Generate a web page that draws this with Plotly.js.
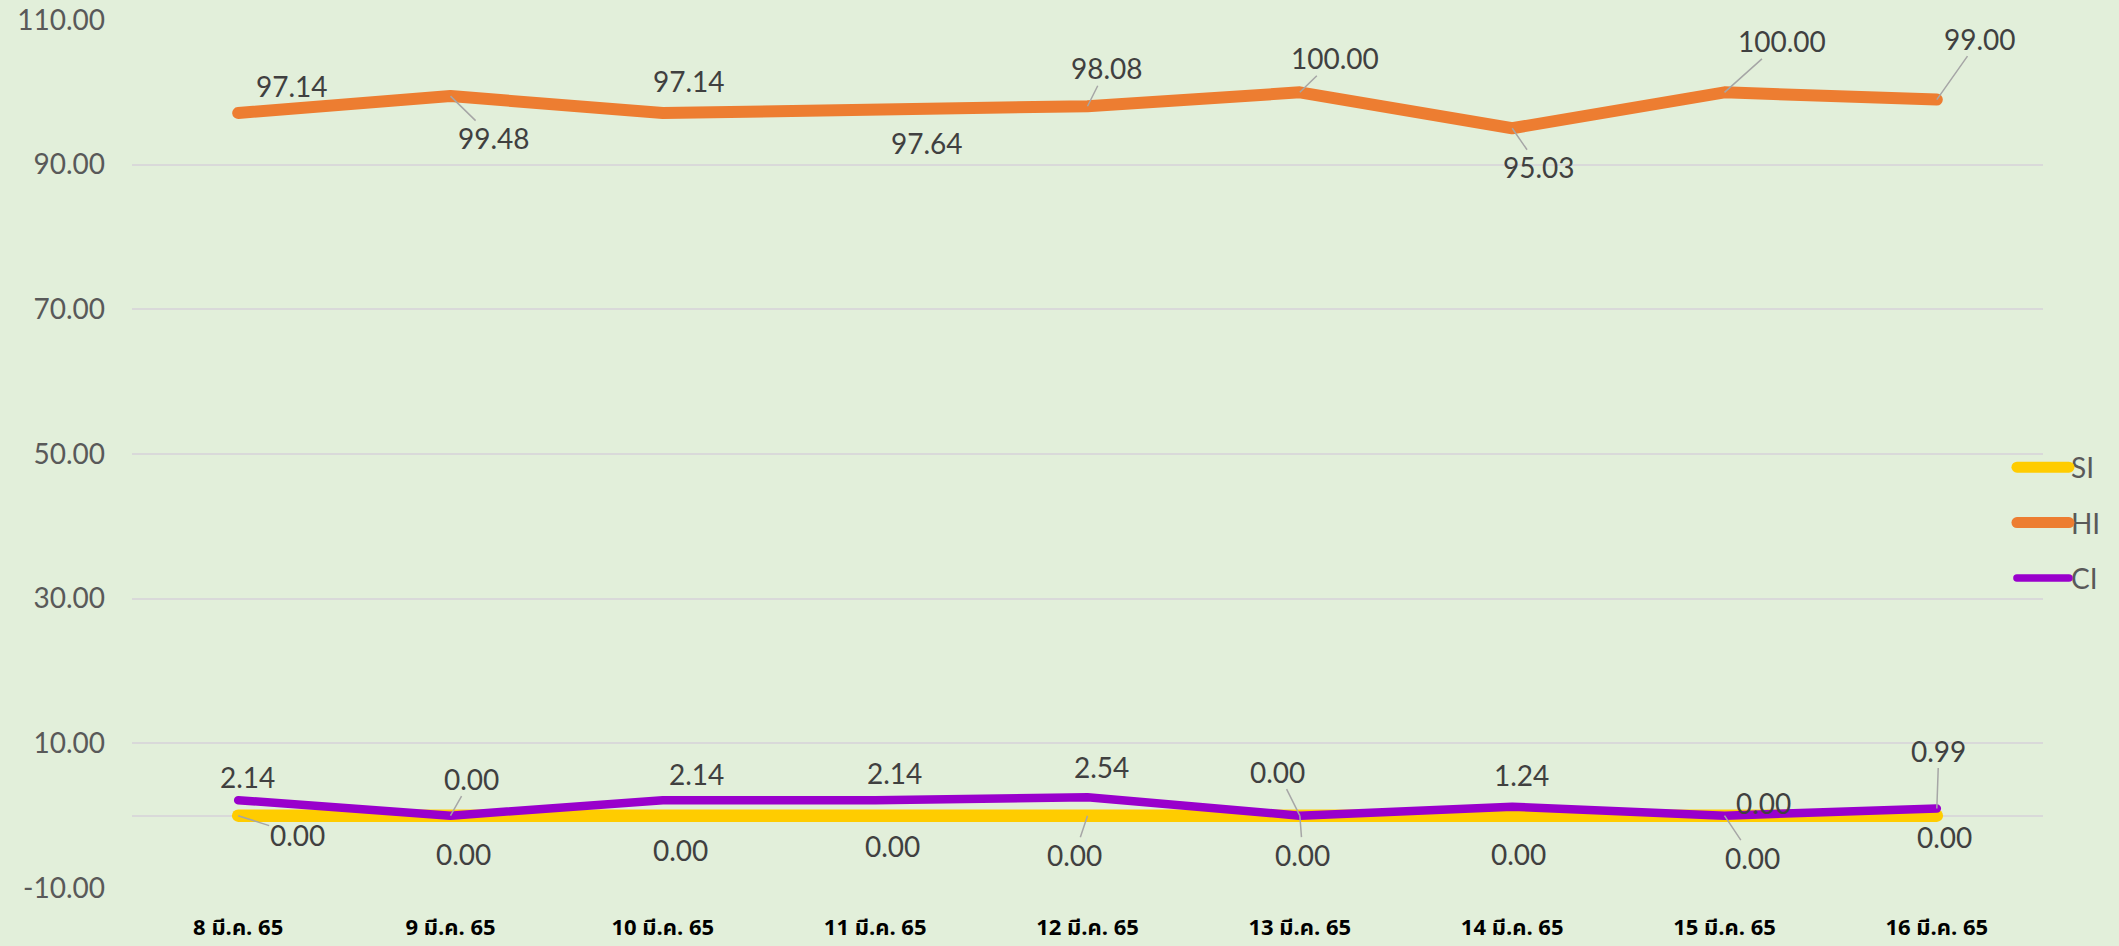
<!DOCTYPE html>
<html>
<head>
<meta charset="utf-8">
<script src="https://cdn.plot.ly/plotly-3.0.1.min.js"></script>
<style>
  html, body { margin: 0; padding: 0; background: #E2EFDA; }
  #chart { width: 2119px; height: 946px; }
  .scatterlayer .js-line, .legendlines path { stroke-linecap: round; stroke-linejoin: round; }
</style>
</head>
<body>
<div id="chart"></div>
<script>
// ---- data ----
const categories = ['8 มี.ค. 65', '9 มี.ค. 65', '10 มี.ค. 65', '11 มี.ค. 65', '12 มี.ค. 65',
                    '13 มี.ค. 65', '14 มี.ค. 65', '15 มี.ค. 65', '16 มี.ค. 65'];
const siValues = [0.00, 0.00, 0.00, 0.00, 0.00, 0.00, 0.00, 0.00, 0.00];
const hiValues = [97.14, 99.48, 97.14, 97.64, 98.08, 100.00, 95.03, 100.00, 99.00];
const ciValues = [2.14, 0.00, 2.14, 2.14, 2.54, 0.00, 1.24, 0.00, 0.99];
const seriesNames = ['SI', 'HI', 'CI'];
const yTickValues = [-10, 10, 30, 50, 70, 90, 110];

// ---- label placement (pixel offsets from each point, and leader-line flags) ----
const siLabelDx = [59, 13, 18, 17, -13, 3, 6, 28, 8];
const siLabelDy = [19, 38, 34, 30, 39, 39, 38, 42, 21];
const siLeader  = [1, 0, 0, 0, 1, 1, 0, 1, 0];
const hiLabelDx = [54, 43, 26, 52, 19, 35, 27, 57, 43];
const hiLabelDy = [-27, 42, -32, 34, -38, -34, 39, -51, -61];
const hiLeader  = [0, 1, 0, 0, 1, 1, 1, 1, 1];
const ciLabelDx = [9, 21, 34, 19, 14, -22, 9, 39, 2];
const ciLabelDy = [-23, -37, -26, -27, -30, -44, -32, -13, -58];
const ciLeader  = [0, 1, 0, 0, 0, 1, 0, 0, 1];

const colors = { SI: '#FFCC00', HI: '#ED7D31', CI: '#9900CC' };
const widths = { SI: 12.5, HI: 12, CI: 8.5 };
const labelFont = { family: 'Lato, "Open Sans", sans-serif', size: 28, color: '#404040' };

const seriesValues = { SI: siValues, HI: hiValues, CI: ciValues };
const labelDx = { SI: siLabelDx, HI: hiLabelDx, CI: ciLabelDx };
const labelDy = { SI: siLabelDy, HI: hiLabelDy, CI: ciLabelDy };
const leaders = { SI: siLeader, HI: hiLeader, CI: ciLeader };

const traces = seriesNames.map((name, i) => ({
  type: 'scatter',
  mode: 'lines',
  name: name,
  x: categories,
  y: seriesValues[name],
  line: { color: colors[name], width: widths[name] },
  legendgroup: 'g' + i,
  hoverinfo: 'x+y+name'
}));

const annotations = [];
seriesNames.forEach(name => {
  seriesValues[name].forEach((v, j) => {
    const hasLeader = leaders[name][j] === 1;
    annotations.push({
      x: categories[j],
      y: v,
      xref: 'x', yref: 'y',
      text: v.toFixed(2),
      font: labelFont,
      showarrow: true,
      arrowhead: 0,
      arrowwidth: 1.5,
      arrowcolor: hasLeader ? '#A6A6A6' : 'rgba(0,0,0,0)',
      standoff: 0,
      ax: labelDx[name][j],
      ay: labelDy[name][j],
      borderpad: 0
    });
  });
});

const layout = {
  width: 2119,
  height: 946,
  paper_bgcolor: '#E2EFDA',
  plot_bgcolor: '#E2EFDA',
  margin: { l: 132, r: 76, t: 20, b: 58, autoexpand: false },
  font: { family: 'Lato, "Open Sans", sans-serif', color: '#595959' },
  showlegend: true,
  legend: {
    x: 0.9937, xanchor: 'left',
    y: 0.4205, yanchor: 'middle',
    bgcolor: 'rgba(0,0,0,0)',
    font: { family: 'Lato, "Open Sans", sans-serif', size: 28, color: '#595959' },
    tracegroupgap: 16
  },
  xaxis: {
    type: 'category',
    range: [-0.5, categories.length - 0.5],
    showgrid: false,
    showline: false,
    zeroline: false,
    ticks: '',
    tickfont: { family: '"Noto Sans Thai", "Noto Sans", Tahoma, sans-serif', size: 22, color: '#000000', weight: 'bold' },
    ticklabelstandoff: 24
  },
  yaxis: {
    range: [-10, 110],
    tickmode: 'array',
    tickvals: yTickValues,
    ticktext: yTickValues.map(v => v.toFixed(2)),
    showgrid: true,
    gridcolor: '#D9D9D9',
    gridwidth: 2,
    zeroline: true,
    zerolinecolor: '#D9D9D9',
    zerolinewidth: 2,
    showline: false,
    ticks: '',
    tickfont: { family: 'Lato, "Open Sans", sans-serif', size: 28, color: '#595959' },
    ticklabelstandoff: 26
  },
  annotations: annotations
};

Plotly.newPlot('chart', traces, layout, { displayModeBar: false, staticPlot: true }).then(gd => {
  // Excel-style legend keys: longer, full-weight line samples ending just before the text
  gd.querySelectorAll('.legend .scrollbox').forEach(sb => sb.removeAttribute('clip-path'));
  const legendWidths = [11, 11, 7.5];
  gd.querySelectorAll('.legend .legendlines path').forEach((p, i) => {
    p.setAttribute('d', 'M-14,0h52');
    p.style.strokeWidth = legendWidths[i % legendWidths.length] + 'px';
  });
});
</script>
</body>
</html>
